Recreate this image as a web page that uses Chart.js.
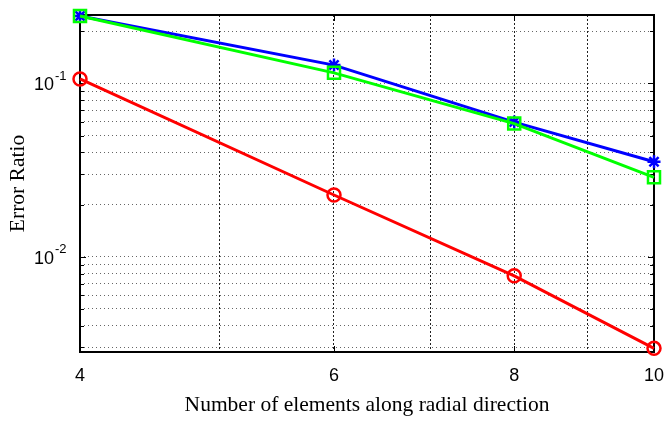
<!DOCTYPE html>
<html><head><meta charset="utf-8">
<script src="https://cdn.jsdelivr.net/npm/chart.js@4/dist/chart.umd.min.js"></script>
<style>html,body{margin:0;padding:0;background:#fff;}#wrap{width:665px;height:421px;}</style>
</head><body><div id="wrap"><canvas id="c" width="665" height="421"></canvas></div>
<script>
const elements = [4, 6, 8, 10];
const seriesStar = [0.245, 0.1275, 0.0598, 0.0353];
const seriesSquare = [0.245, 0.115, 0.0586, 0.0287];
const seriesCircle = [0.106, 0.0227, 0.00776, 0.00296];
const xTickLabels = [4, 6, 8, 10];
const xGridValues = [4, 5, 6, 7, 8, 9, 10];
const yGridValues = [0.003, 0.004, 0.005, 0.006, 0.007, 0.008, 0.009, 0.01,
  0.02, 0.03, 0.04, 0.05, 0.06, 0.07, 0.08, 0.09, 0.1, 0.2];
const yDecadeLabels = [{ value: 0.01, base: '10', exp: '-2' }, { value: 0.1, base: '10', exp: '-1' }];
const yRange = [0.00282, 0.248];
const xRange = [4, 10];

const framePlugin = {
  id: 'frame',
  beforeDatasetsDraw(chart) {
    const { ctx, chartArea: a, scales } = chart;
    ctx.save();
    ctx.strokeStyle = '#000';
    ctx.lineWidth = 1;
    ctx.beginPath();
    yGridValues.forEach(v => {
      const y = Math.round(scales.y.getPixelForValue(v)) + 0.5;
      const len = (v === 0.01 || v === 0.1) ? 6 : 4;
      ctx.moveTo(a.left, y); ctx.lineTo(a.left + len, y);
      ctx.moveTo(a.right, y); ctx.lineTo(a.right - len, y);
    });
    xTickLabels.forEach(v => {
      const x = Math.round(scales.x.getPixelForValue(v)) + 0.5;
      ctx.moveTo(x, a.bottom); ctx.lineTo(x, a.bottom - 6);
      ctx.moveTo(x, a.top); ctx.lineTo(x, a.top + 6);
    });
    ctx.stroke();
    ctx.lineWidth = 2;
    ctx.strokeRect(a.left, a.top, a.right - a.left, a.bottom - a.top);
    ctx.fillStyle = '#000';
    yDecadeLabels.forEach(d => {
      const y = scales.y.getPixelForValue(d.value);
      ctx.font = '18px "Liberation Sans", Arial, sans-serif';
      ctx.textAlign = 'right';
      ctx.textBaseline = 'middle';
      ctx.fillText(d.base, a.left - 26, y + 2);
      ctx.font = '13px "Liberation Sans", Arial, sans-serif';
      ctx.textAlign = 'left';
      ctx.fillText(d.exp, a.left - 25, y - 7);
    });
    ctx.restore();
  }
};

new Chart(document.getElementById('c'), {
  type: 'line',
  data: {
    labels: elements,
    datasets: [
      { label: 'star', data: elements.map((x, i) => ({ x, y: seriesStar[i] })),
        borderColor: '#0000ff', backgroundColor: 'transparent', borderWidth: 3,
        pointStyle: 'star', pointRadius: 6.5, pointBorderWidth: 2.5, pointBorderColor: '#0000ff',
        pointBackgroundColor: 'transparent', order: 3, clip: false },
      { label: 'square', data: elements.map((x, i) => ({ x, y: seriesSquare[i] })),
        borderColor: '#00ff00', backgroundColor: 'transparent', borderWidth: 3,
        pointStyle: 'rect', pointRadius: 8.5, pointBorderWidth: 2.5, pointBorderColor: '#00ff00',
        pointBackgroundColor: 'transparent', order: 2, clip: false },
      { label: 'circle', data: elements.map((x, i) => ({ x, y: seriesCircle[i] })),
        borderColor: '#ff0000', backgroundColor: 'transparent', borderWidth: 3,
        pointStyle: 'circle', pointRadius: 6.5, pointBorderWidth: 2.5, pointBorderColor: '#ff0000',
        pointBackgroundColor: 'transparent', order: 1, clip: false }
    ]
  },
  options: {
    responsive: false,
    animation: false,
    events: [],
    layout: { padding: { top: 15, right: 8, left: 0, bottom: 0 } },
    plugins: { legend: { display: false }, tooltip: { enabled: false } },
    elements: { line: { tension: 0 } },
    scales: {
      x: {
        type: 'logarithmic', min: xRange[0], max: xRange[1],
        afterBuildTicks: s => { s.ticks = xGridValues.map(v => ({ value: v })); },
        afterFit: s => { s.height = 69; s.paddingLeft = 0; s.paddingRight = 0; },
        border: { display: false, dash: [2, 2] },
        grid: {
          drawTicks: false, lineWidth: 1,
          color: c => (c.tick && (c.tick.value === xRange[0] || c.tick.value === xRange[1])) ? 'rgba(0,0,0,0)' : '#222'
        },
        ticks: {
          autoSkip: false, maxRotation: 0, padding: 13, color: '#000',
          font: { family: '"Liberation Sans", Arial, sans-serif', size: 18 },
          callback: v => xTickLabels.includes(v) ? String(v) : ''
        },
        title: { display: true, text: 'Number of elements along radial direction', color: '#000',
          font: { family: '"Liberation Serif", "Times New Roman", serif', size: 21.5 },
          padding: { top: 0, bottom: 3 } }
      },
      y: {
        type: 'logarithmic', min: yRange[0], max: yRange[1],
        afterBuildTicks: s => { s.ticks = yGridValues.map(v => ({ value: v })); },
        afterFit: s => { s.width = 80; s.paddingTop = 0; s.paddingBottom = 0; },
        border: { display: false, dash: [1, 3] },
        grid: { drawTicks: false, lineWidth: 1, color: '#666' },
        ticks: { display: false },
        title: { display: true, text: 'Error Ratio', color: '#000',
          font: { family: '"Liberation Serif", "Times New Roman", serif', size: 21.5 },
          padding: { top: 5, bottom: 0 } }
      }
    }
  },
  plugins: [framePlugin]
});
</script>
</body></html>
